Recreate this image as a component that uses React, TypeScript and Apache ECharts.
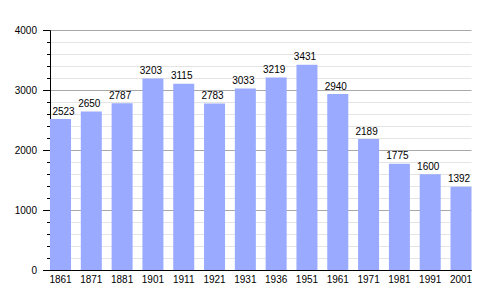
import React, { useEffect, useRef } from "react";
import * as echarts from "echarts";

const years = ["1861", "1871", "1881", "1901", "1911", "1921", "1931", "1936", "1951", "1961", "1971", "1981", "1991", "2001"];
const population = [2523, 2650, 2787, 3203, 3115, 2783, 3033, 3219, 3431, 2940, 2189, 1775, 1600, 1392];
const yTicks = [0, 1000, 2000, 3000, 4000];

export default function App() {
  const ref = useRef<HTMLDivElement>(null);
  useEffect(() => {
    if (!ref.current) return;
    const chart = echarts.init(ref.current, undefined, { renderer: "svg" });
    const gridLeft = 50;
    const gridRight = 28.5;
    const plotW = 500 - gridLeft - gridRight;
    const barW = 21;
    const n = years.length;
    const pitch = (plotW - barW) / (n - 1);
    const half = barW / 2 / pitch;
    const font = "'Liberation Sans', Arial, sans-serif";
    chart.setOption({
      animation: false,
      backgroundColor: "#ffffff",
      grid: { left: gridLeft, right: gridRight, top: 30.7, bottom: 30, containLabel: false },
      xAxis: {
        type: "value",
        min: -half,
        max: n - 1 + half,
        axisLine: { show: true, onZero: false, lineStyle: { color: "#000", width: 1 } },
        axisTick: { show: false },
        splitLine: { show: false },
        axisLabel: {
          customValues: years.map((_, i) => i),
          formatter: (v: number) => years[Math.round(v)] ?? "",
          fontSize: 10,
          fontFamily: font,
          color: "#000",
          margin: 4,
        },
      },
      yAxis: {
        type: "value",
        min: yTicks[0],
        max: yTicks[yTicks.length - 1],
        interval: 1000,
        axisLine: { show: true, onZero: false, lineStyle: { color: "#000", width: 1 } },
        axisTick: { show: true, inside: false, length: 7, lineStyle: { color: "#000" } },
        minorTick: { show: true, splitNumber: 5, length: 3, lineStyle: { color: "#000" } },
        splitLine: { show: true, lineStyle: { color: "#a8a8a8", width: 1 } },
        minorSplitLine: { show: true, lineStyle: { color: "#e4e4e4", width: 1 } },
        axisLabel: {
          fontSize: 10,
          fontFamily: font,
          color: "#000",
          margin: 13,
          formatter: (v: number) => String(v),
        },
      },
      series: [
        {
          type: "bar",
          barWidth: barW,
          itemStyle: { color: "#99aaff" },
          data: population.map((v, i) => ({
            value: [i, v],
            label: { offset: i === 0 ? [3, 0] : [-2, 0] },
          })),
          label: {
            show: true,
            position: "top",
            distance: 3,
            fontSize: 10,
            fontFamily: font,
            color: "#000",
            formatter: (p: any) => String(p.value[1]),
          },
        },
      ],
    });
    return () => chart.dispose();
  }, []);
  return <div ref={ref} style={{ position: "fixed", left: 0, top: 0, width: 500, height: 300 }} />;
}
